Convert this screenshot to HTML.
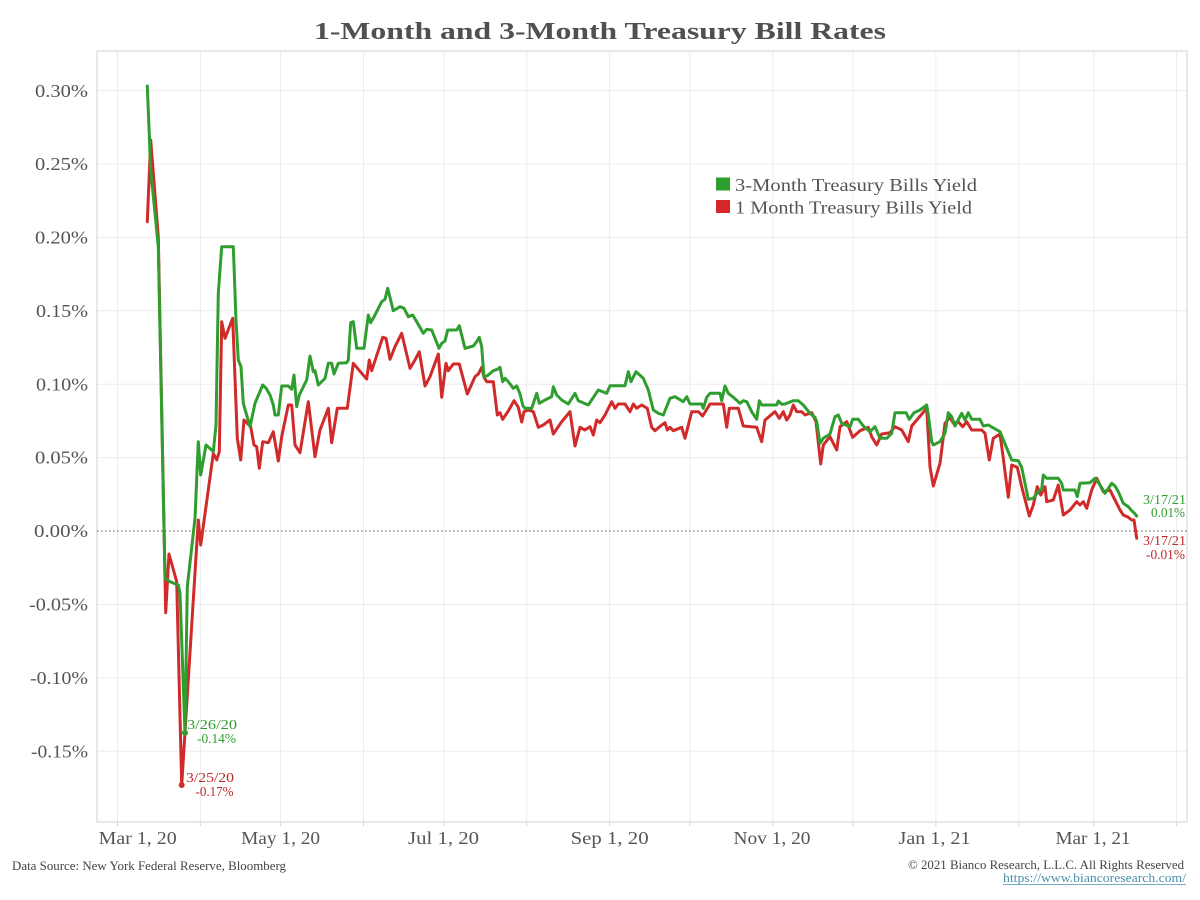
<!DOCTYPE html>
<html><head><meta charset="utf-8"><style>
html,body{margin:0;padding:0;background:#fff;}
svg{display:block;}
text{font-family:"Liberation Serif","DejaVu Serif",serif;}
</style></head><body>
<svg width="1200" height="900" viewBox="0 0 1200 900" xmlns="http://www.w3.org/2000/svg">
<rect x="0" y="0" width="1200" height="900" fill="#fff"/>
<text x="600" y="39" text-anchor="middle" font-size="24" font-weight="bold" fill="#505050" textLength="572" lengthAdjust="spacingAndGlyphs">1-Month and 3-Month Treasury Bill Rates</text>
<g stroke="#ececec" stroke-width="1">
<line x1="97" y1="90.6" x2="1187" y2="90.6"/>
<line x1="97" y1="164" x2="1187" y2="164"/>
<line x1="97" y1="237.4" x2="1187" y2="237.4"/>
<line x1="97" y1="310.8" x2="1187" y2="310.8"/>
<line x1="97" y1="384.2" x2="1187" y2="384.2"/>
<line x1="97" y1="457.6" x2="1187" y2="457.6"/>
<line x1="97" y1="604.4" x2="1187" y2="604.4"/>
<line x1="97" y1="677.8" x2="1187" y2="677.8"/>
<line x1="97" y1="751.2" x2="1187" y2="751.2"/>
<line x1="117.5" y1="51" x2="117.5" y2="822"/>
<line x1="200.4" y1="51" x2="200.4" y2="822"/>
<line x1="280.6" y1="51" x2="280.6" y2="822"/>
<line x1="363.5" y1="51" x2="363.5" y2="822"/>
<line x1="443.8" y1="51" x2="443.8" y2="822"/>
<line x1="526.7" y1="51" x2="526.7" y2="822"/>
<line x1="609.6" y1="51" x2="609.6" y2="822"/>
<line x1="689.8" y1="51" x2="689.8" y2="822"/>
<line x1="772.8" y1="51" x2="772.8" y2="822"/>
<line x1="853" y1="51" x2="853" y2="822"/>
<line x1="935.9" y1="51" x2="935.9" y2="822"/>
<line x1="1018.8" y1="51" x2="1018.8" y2="822"/>
<line x1="1093.7" y1="51" x2="1093.7" y2="822"/>
<line x1="1176.6" y1="51" x2="1176.6" y2="822"/>
</g>
<g stroke="#d2d2d2" stroke-width="1">
<line x1="117.5" y1="822" x2="117.5" y2="826"/>
<line x1="200.4" y1="822" x2="200.4" y2="826"/>
<line x1="280.6" y1="822" x2="280.6" y2="826"/>
<line x1="363.5" y1="822" x2="363.5" y2="826"/>
<line x1="443.8" y1="822" x2="443.8" y2="826"/>
<line x1="526.7" y1="822" x2="526.7" y2="826"/>
<line x1="609.6" y1="822" x2="609.6" y2="826"/>
<line x1="689.8" y1="822" x2="689.8" y2="826"/>
<line x1="772.8" y1="822" x2="772.8" y2="826"/>
<line x1="853" y1="822" x2="853" y2="826"/>
<line x1="935.9" y1="822" x2="935.9" y2="826"/>
<line x1="1018.8" y1="822" x2="1018.8" y2="826"/>
<line x1="1093.7" y1="822" x2="1093.7" y2="826"/>
<line x1="1176.6" y1="822" x2="1176.6" y2="826"/>
</g>
<rect x="97" y="51" width="1090" height="771" fill="none" stroke="#d2d2d2" stroke-width="1"/>
<line x1="97" y1="531" x2="1187" y2="531" stroke="#555" stroke-width="1" stroke-dasharray="1.5,2.5"/>
<g font-size="18" fill="#555" text-anchor="end">
<text x="88" y="97" textLength="53" lengthAdjust="spacingAndGlyphs">0.30%</text>
<text x="88" y="170" textLength="53" lengthAdjust="spacingAndGlyphs">0.25%</text>
<text x="88" y="243.5" textLength="53" lengthAdjust="spacingAndGlyphs">0.20%</text>
<text x="88" y="317" textLength="52" lengthAdjust="spacingAndGlyphs">0.15%</text>
<text x="88" y="390.5" textLength="52" lengthAdjust="spacingAndGlyphs">0.10%</text>
<text x="88" y="463.5" textLength="53" lengthAdjust="spacingAndGlyphs">0.05%</text>
<text x="88" y="537" textLength="54" lengthAdjust="spacingAndGlyphs">0.00%</text>
<text x="88" y="610.5" textLength="59" lengthAdjust="spacingAndGlyphs">-0.05%</text>
<text x="88" y="684" textLength="58" lengthAdjust="spacingAndGlyphs">-0.10%</text>
<text x="88" y="757.5" textLength="57" lengthAdjust="spacingAndGlyphs">-0.15%</text>
</g>
<g font-size="18" fill="#555">
<text x="98.7" y="844" textLength="78" lengthAdjust="spacingAndGlyphs">Mar 1, 20</text>
<text x="280.6" y="844" text-anchor="middle" textLength="79" lengthAdjust="spacingAndGlyphs">May 1, 20</text>
<text x="443.5" y="844" text-anchor="middle" textLength="71" lengthAdjust="spacingAndGlyphs">Jul 1, 20</text>
<text x="609.6" y="844" text-anchor="middle" textLength="78" lengthAdjust="spacingAndGlyphs">Sep 1, 20</text>
<text x="772" y="844" text-anchor="middle" textLength="77" lengthAdjust="spacingAndGlyphs">Nov 1, 20</text>
<text x="934.5" y="844" text-anchor="middle" textLength="72" lengthAdjust="spacingAndGlyphs">Jan 1, 21</text>
<text x="1093" y="844" text-anchor="middle" textLength="75" lengthAdjust="spacingAndGlyphs">Mar 1, 21</text>
</g>
<polyline fill="none" stroke="#d12a2a" stroke-width="3" stroke-linejoin="round" stroke-linecap="round" points="147.3,221.7 150.7,140 158.3,236.7 165.7,612.7 169,554 176.7,581.7 181.7,785 198.3,520 200.7,545 213.3,453.3 216.7,460 219.3,451.7 221.7,321.7 225,338.3 232.7,318.3 237.3,438.3 240.7,460 244,420 250.7,426.7 254,445 256.7,446.7 259.3,468.3 262.7,441.7 268.3,442.7 273.3,431.7 275,441.7 278.3,461 281.7,436.7 288.3,405 291.7,405 295,445 300,452.7 308.3,401.7 315,456.7 320,430 328.3,408.3 331.7,442.7 337.3,408.3 347.3,408.3 353.3,363.3 361.7,373.3 366.7,379 369.3,360 371.7,370.7 382.7,337.3 386,338.3 390,359.3 395,346.7 401.7,333.3 410,368.3 415,360 419.3,351.7 425,386 430,376.7 438.3,354 441.7,397.3 446,363.3 448.3,370.7 453.3,364 459.3,364 467.3,394 475,376.7 478.3,374 481.7,367.3 484,377.3 486.7,381.7 493.3,381.7 497.3,415 500,412.7 502.7,419.3 508.3,411 514,400.7 518.3,407.3 521.7,422 524,411.7 528.3,410 533.3,411.7 538.3,427.3 543.3,425 550,420 553.3,434 561.7,421.7 570,411.7 575,446 580,427.3 585,430 590,426.7 593.3,435 596.7,420 600,422.7 605,415 611.7,401.7 615,408.3 618.3,404 625,404 630,411.7 633.3,404 636.7,408.3 641.7,405 647.3,408.3 651.7,427.3 655,430.7 661.7,425 665,422.7 667.3,430 670,427.3 673.3,430.7 681.7,427.3 685,438.3 691.7,411.7 698.3,411.7 702.7,416 710,404 723.3,404 726.7,427.3 729.3,408.3 738.3,408.3 743.3,426 756.7,427.3 761.7,441.7 765,420 775,411.7 779.3,418.3 783.3,411.7 786.7,420 790,415 793.3,405 796.7,411.7 801.7,411.7 805,415 811.7,412.7 816,421.7 820.7,464 823.3,445 830,436.7 836.7,450 840,426.7 846.7,421.7 852.7,437.3 860,430.7 868.3,427.3 871.7,436.7 876.7,445 881.7,434 890,432.7 895,426.7 901.7,430 908.3,441.7 911.7,426 926.7,408.3 930,466.7 933.3,486 940,463.3 945,423.3 950,417.3 953.3,423.3 958.3,421.7 962.7,426.7 966.7,421.7 971.7,430 981.7,430 985,433.3 989.3,460 993.3,438.3 1000,434 1003.3,458.3 1008.3,497.3 1011.7,465 1017.3,467.3 1021.7,486.7 1029.3,516 1033.3,505 1037.3,486.7 1040.7,495 1045,486.7 1046.7,501.7 1053.3,500 1058.3,485 1063.3,515 1070,510 1076.7,501.7 1080,505 1083.3,501.7 1086.7,508.3 1091.7,490 1096.7,478.3 1100,485 1103.3,491.7 1110,490 1113.3,496.7 1116.7,503.3 1120,510 1123.3,515 1128.3,517.3 1131.7,520 1134,520 1136.7,538.3"/>
<polyline fill="none" stroke="#2f9e2f" stroke-width="3" stroke-linejoin="round" stroke-linecap="round" points="147.3,86 150.7,170 158.3,246.7 165,578.3 170,581.7 178.3,585 180,593 185,732.7 187.3,586.7 195,518.3 198.3,441.7 200.7,475 206,445 211.7,450 213.3,451.7 216,425 218.3,293.3 221.7,246.7 233.3,246.7 236,320 238.3,360 241,366.7 243.3,403.3 250,426.7 255,403.3 262.7,385 266,388 270,395 273.3,405 275,415 278.3,415 281.7,386 288.3,386 291.7,389.3 294,375 296.7,406.7 299.3,395 306.7,380 310,356 313.3,371.7 315,370.7 318.3,385 325,378.3 328.3,363.3 331.7,363.3 334,374 338.3,363.3 346.7,362.7 348.3,360 350.7,322.7 353.3,321.7 356.7,348.3 364,348.3 368.3,315 370.7,322.7 375,315 381.7,301.7 385,299.3 387.7,288.3 393.3,310.7 400,306.7 404,308.3 408.3,316.7 412.7,315 416.7,321.7 423.3,333.3 426.7,329.3 431.7,330 439,348.3 441.7,343.3 445,341 447.7,330 456.7,330 459.3,325.7 465,348.3 473.3,346 476.7,341.7 479.3,337.3 481.7,346.7 484,377.3 488.3,375 493.3,370.7 497.3,369.3 500,367.3 502.7,381.7 505,378.3 508.3,381.7 513.3,388.3 516.7,386 520,394 523,406 525,408.3 531.7,408.3 536.7,393.3 539.3,403.3 545,400 551.7,396.7 553.3,386.7 556.7,395 561.7,400 568.3,404 575,393.3 578.3,400.7 588.3,405 598.3,390 606.7,393.3 610,385.7 625,385.7 628.3,371.7 631,381.7 636,371.7 643.3,378.3 648.3,390 653.3,410 658.3,413.3 663.3,415 670,398.3 675,396.7 683.3,401.7 686.7,396.7 690,404 701.7,404 703.3,408.3 706.7,397.3 710,393.3 720,393.3 721.7,400.7 725,386 728.3,393.3 733.3,397.3 740,403.3 743.3,400.7 746.7,401.7 751.7,411.7 756.7,419.3 759.3,400.7 761.7,405 776.7,405 778.3,401 781.7,404.3 785,404 793.3,400.7 798.3,400.7 803.3,405 810,413.3 815,417.3 816.7,421.7 820,443.3 823.3,438.3 830,434 835,416.7 838.3,415 841.7,423.3 850,426.7 852.7,419.3 858.3,419.3 863.3,426 870,431.7 875,426.7 880,438.3 886.7,438.3 891.7,433.3 895,412.7 906,412.7 909.3,419.3 914,412.7 920,410 926.7,405 928.3,415 931.7,441.7 933.3,445 940,441.7 945,433.3 948.3,412.7 951.7,416.7 955,426 961.7,413.3 965,420 968.3,412.7 971.7,419.3 980,419.3 983.3,426 988.3,425 1000,431.7 1005,444 1011.7,460 1018.3,460.7 1021.7,467.3 1028.3,499.3 1033.3,498.3 1038.3,491.7 1041.7,489.3 1043.3,475 1046.7,478.3 1058.3,478.3 1061.7,483.3 1063.3,490 1075,490 1077.3,496.7 1080,483.3 1090,482.7 1095,478.3 1100,485 1105,493.3 1111.7,483.3 1115,486 1118.3,491.7 1123.3,503.3 1128.3,506.7 1131.7,510.7 1134,512.7 1136.7,516"/>
<circle cx="181.7" cy="785" r="3" fill="#d12a2a"/>
<circle cx="185" cy="732.7" r="3" fill="#2f9e2f"/>
<g font-size="14" text-anchor="end">
<text x="237" y="729" fill="#2f9e2f" textLength="50" lengthAdjust="spacingAndGlyphs">3/26/20</text>
<text x="236" y="743" fill="#2f9e2f" textLength="39" lengthAdjust="spacingAndGlyphs">-0.14%</text>
<text x="234" y="782" fill="#c0282a" textLength="48" lengthAdjust="spacingAndGlyphs">3/25/20</text>
<text x="233.5" y="796" fill="#c0282a" textLength="38" lengthAdjust="spacingAndGlyphs">-0.17%</text>
<text x="1186" y="504" fill="#2f9e2f" textLength="43" lengthAdjust="spacingAndGlyphs">3/17/21</text>
<text x="1185" y="517" fill="#2f9e2f" textLength="34" lengthAdjust="spacingAndGlyphs">0.01%</text>
<text x="1186" y="545" fill="#c0282a" textLength="43" lengthAdjust="spacingAndGlyphs">3/17/21</text>
<text x="1185" y="559" fill="#c0282a" textLength="39" lengthAdjust="spacingAndGlyphs">-0.01%</text>
</g>
<rect x="716" y="177.5" width="14" height="13" fill="#2ca02c"/>
<rect x="716" y="200" width="14" height="13" fill="#d62728"/>
<g font-size="18" fill="#555">
<text x="735" y="191" textLength="242" lengthAdjust="spacingAndGlyphs">3-Month Treasury Bills Yield</text>
<text x="735" y="213.5" textLength="237" lengthAdjust="spacingAndGlyphs">1 Month Treasury Bills Yield</text>
</g>
<text x="12" y="870" font-size="13" fill="#444" textLength="274" lengthAdjust="spacingAndGlyphs">Data Source: New York Federal Reserve, Bloomberg</text>
<text x="1184" y="869" font-size="13" fill="#444" text-anchor="end" textLength="276" lengthAdjust="spacingAndGlyphs">© 2021 Bianco Research, L.L.C. All Rights Reserved</text>
<text x="1186" y="882" font-size="13" fill="#4a90b0" text-anchor="end" textLength="183" lengthAdjust="spacingAndGlyphs">https://www.biancoresearch.com/</text>
<line x1="1003" y1="884.5" x2="1186" y2="884.5" stroke="#4a90b0" stroke-width="0.8"/>
</svg>
</body></html>
